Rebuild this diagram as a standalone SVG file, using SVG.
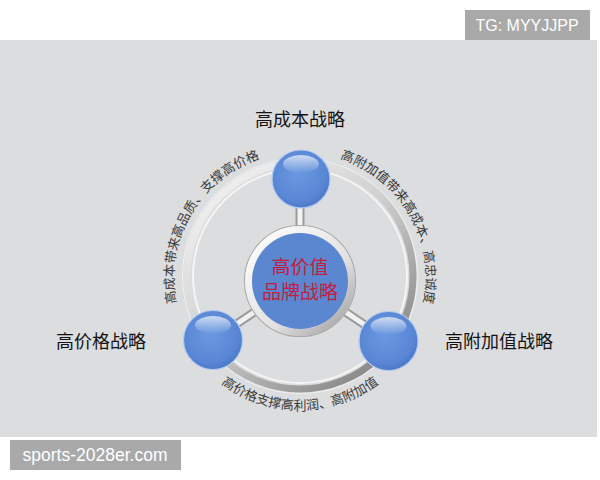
<svg xmlns="http://www.w3.org/2000/svg" width="600" height="480" viewBox="0 0 600 480">
<style>
.lbl{font-family:"Noto Sans CJK SC","Noto Sans",sans-serif;font-size:18px;fill:#141414;text-anchor:middle}
.arc{font-family:"Noto Sans CJK SC","Noto Sans",sans-serif;font-size:13px;fill:#3a3a3a}
.ctr{font-family:"Noto Sans CJK SC","Noto Sans",sans-serif;font-size:19px;fill:#c21f3e;text-anchor:middle}
.wm{font-family:"Liberation Sans",Arial,sans-serif;fill:#ffffff;text-anchor:middle}
.ball{fill:url(#ballG);stroke:#b4ccf0;stroke-width:1.2}
.hl{fill:url(#hlG)}
.spokeO{stroke:#9a9a9a;stroke-width:9;fill:none}
.spokeI{stroke:#f2f2f2;stroke-width:5;fill:none}
</style>
<defs>
<radialGradient id="ballG" cx="0.45" cy="0.4" r="0.65">
<stop offset="0" stop-color="#6a98e0"/>
<stop offset="0.75" stop-color="#5886d4"/>
<stop offset="1" stop-color="#4572c2"/>
</radialGradient>
<linearGradient id="hlG" x1="0" y1="0" x2="0" y2="1">
<stop offset="0" stop-color="#ffffff" stop-opacity="0.7"/>
<stop offset="1" stop-color="#ffffff" stop-opacity="0"/>
</linearGradient>
<linearGradient id="ringG" gradientUnits="userSpaceOnUse" x1="210" y1="170" x2="395" y2="390">
<stop offset="0" stop-color="#f4f4f4"/>
<stop offset="0.45" stop-color="#d0d0d0"/>
<stop offset="1" stop-color="#7a7a7a"/>
</linearGradient>
<linearGradient id="silverG" gradientUnits="userSpaceOnUse" x1="250" y1="228" x2="350" y2="335">
<stop offset="0" stop-color="#ffffff"/>
<stop offset="0.6" stop-color="#e2e2e2"/>
<stop offset="1" stop-color="#9a9a9a"/>
</linearGradient>
<path id="pL" d="M203.48,358.99 A126,126 0 0 1 321.88,153.91"/>
<path id="pR" d="M278.12,153.91 A126,126 0 0 1 396.52,358.99"/>
<path id="pB" d="M175.96,323.1 A132,132 0 0 0 424.04,323.1"/>
</defs>

<rect x="0" y="0" width="600" height="480" fill="#ffffff"/>
<rect x="0" y="40" width="597" height="397" fill="#dcdddf"/>

<g id="ring">
<circle cx="300" cy="276" r="117.5" fill="none" stroke="#f0f0f0" stroke-width="1"/>
<circle cx="300" cy="276" r="113" fill="none" stroke="url(#ringG)" stroke-width="7"/>
<circle cx="300" cy="276" r="107" fill="none" stroke="#f6f6f6" stroke-width="1.8"/>
</g>

<g id="connectors">
<line class="spokeO" x1="300" y1="204" x2="300" y2="228"/>
<line class="spokeI" x1="300" y1="204" x2="300" y2="228"/>
<line class="spokeO" x1="237" y1="323.7" x2="253.6" y2="312.5"/>
<line class="spokeI" x1="237" y1="323.7" x2="253.6" y2="312.5"/>
<line class="spokeO" x1="346.3" y1="312.4" x2="364.5" y2="324.7"/>
<line class="spokeI" x1="346.3" y1="312.4" x2="364.5" y2="324.7"/>
</g>

<g id="arc-texts">
<text class="arc"><textPath href="#pL" startOffset="50%" text-anchor="middle">高成本带来高品质、支撑高价格</textPath></text>
<text class="arc"><textPath href="#pR" startOffset="50%" text-anchor="middle">高附加值带来高成本、高忠诚度</textPath></text>
<text class="arc"><textPath href="#pB" startOffset="50%" text-anchor="middle">高价格支撑高利润、高附加值</textPath></text>
</g>

<g id="center">
<circle cx="300" cy="281" r="55.5" fill="none" stroke="#a8a8a8" stroke-width="1.2"/>
<circle cx="300" cy="281" r="51.5" fill="none" stroke="url(#silverG)" stroke-width="7"/>
<circle cx="300" cy="281" r="48" fill="#5b86d0"/>
<text class="ctr" x="300" y="274">高价值</text>
<text class="ctr" x="300" y="299">品牌战略</text>
</g>

<g id="node-top">
<circle class="ball" cx="301" cy="179" r="29"/>
<ellipse class="hl" cx="301" cy="164" rx="18" ry="9"/>
<text class="lbl" x="300" y="126">高成本战略</text>
</g>

<g id="node-left">
<circle class="ball" cx="213" cy="340" r="29.5"/>
<ellipse class="hl" cx="213" cy="325" rx="18" ry="9"/>
<text class="lbl" x="101" y="348">高价格战略</text>
</g>

<g id="node-right">
<circle class="ball" cx="388.5" cy="341" r="29.5"/>
<ellipse class="hl" cx="388.5" cy="326" rx="18" ry="9"/>
<text class="lbl" x="499" y="348">高附加值战略</text>
</g>

<g id="watermarks">
<rect x="465" y="10" width="125" height="30" fill="#a9a9a9"/>
<text class="wm" x="527" y="31" font-size="16">TG: MYYJJPP</text>
<rect x="10" y="440" width="171" height="30" fill="#a9a9a9"/>
<text class="wm" x="95" y="461" font-size="17.5">sports-2028er.com</text>
</g>
</svg>
